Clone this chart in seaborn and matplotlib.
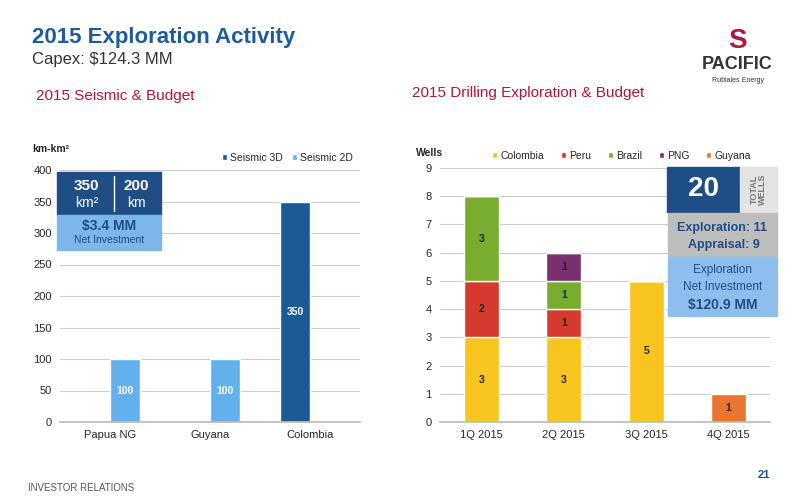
import matplotlib
matplotlib.use("Agg")
import matplotlib.pyplot as plt
from matplotlib.patches import Rectangle
import seaborn as sns
import pandas as pd

# Seismic data
seis_regions = ["Papua NG", "Guyana", "Colombia"]
seis_3d = [0, 0, 350]
seis_2d = [100, 100, 0]

# Drilling data
quarters = ["1Q 2015", "2Q 2015", "3Q 2015", "4Q 2015"]
wells = {
    "Colombia": [3, 3, 5, 0],
    "Peru": [2, 1, 0, 0],
    "Brazil": [3, 1, 0, 0],
    "PNG": [0, 1, 0, 0],
    "Guyana": [0, 0, 0, 1],
}
well_colors = {"Colombia": "#F7C51E", "Peru": "#D63A2F", "Brazil": "#78AD2F",
               "PNG": "#7A2F6E", "Guyana": "#E87530"}

DARK = "#1F4E87"
C3D = "#1B5A94"
C2D = "#63B1EC"
RED = "#B0163A"

sns.set_theme(style="white")
plt.rcParams["font.family"] = ["Liberation Sans", "DejaVu Sans"]

fig = plt.figure(figsize=(8, 5), dpi=100)
fig.patch.set_facecolor("white")

# header
fig.text(0.04, 0.915, "2015 Exploration Activity", fontsize=16, weight="bold", color="#1F5A9C")
fig.text(0.04, 0.872, "Capex: $124.3 MM", fontsize=12, color="#333333")
fig.text(0.045, 0.800, "2015 Seismic & Budget", fontsize=11, color=RED)
fig.text(0.515, 0.805, "2015 Drilling Exploration & Budget", fontsize=11, color=RED)
fig.text(0.922, 0.862, "PACIFIC", fontsize=13, weight="bold", color="#333333", ha="center")
fig.text(0.922, 0.836, "Rubiales Energy", fontsize=5, color="#333333", ha="center")
fig.text(0.922, 0.905, "S", fontsize=20, weight="bold", color=RED, ha="center")
fig.text(0.035, 0.018, "INVESTOR RELATIONS", fontsize=7, color="#555555")
fig.text(0.955, 0.045, "21", fontsize=8, weight="bold", color="#1F4E87", ha="center")

# ---- left chart ----
ax1 = fig.add_axes([0.075, 0.156, 0.375, 0.504])
df1 = pd.DataFrame({
    "region": seis_regions * 2,
    "type": ["Seismic 3D"] * 3 + ["Seismic 2D"] * 3,
    "value": seis_3d + seis_2d,
})
sns.barplot(data=df1, x="region", y="value", hue="type", ax=ax1,
            palette={"Seismic 3D": C3D, "Seismic 2D": C2D}, width=0.6, saturation=1)
for cont in ax1.containers:
    for b in cont:
        h = b.get_height()
        if h > 0:
            ax1.text(b.get_x() + b.get_width() / 2, h / 2, f"{int(h)}", color="white",
                     fontsize=7.5, weight="bold", ha="center", va="center")
ax1.set_ylim(0, 400)
ax1.set_yticks(range(0, 401, 50))
ax1.yaxis.grid(True, color="#CCCCCC", lw=0.8)
ax1.set_axisbelow(True)
ax1.set_xlabel("")
ax1.set_ylabel("")
ax1.tick_params(labelsize=8, length=0, pad=6)
for s in ["top", "right", "left"]:
    ax1.spines[s].set_visible(False)
ax1.spines["bottom"].set_color("#BBBBBB")
leg = ax1.legend(loc="lower right", bbox_to_anchor=(1.0, 1.0), ncol=2, frameon=False,
                 fontsize=7.5, handlelength=0.5, handleheight=0.5, columnspacing=0.8,
                 handletextpad=0.3, borderaxespad=0.3)
fig.text(0.04, 0.695, "km-km²", fontsize=7.5, weight="bold")

# info box left
fig.patches.append(Rectangle((0.071, 0.570), 0.130, 0.086, transform=fig.transFigure, color=DARK))
fig.patches.append(Rectangle((0.071, 0.500), 0.130, 0.070, transform=fig.transFigure, color="#7DB6EA"))
fig.lines.append(plt.Line2D([0.142, 0.142], [0.578, 0.648], transform=fig.transFigure, color="white", lw=1))
fig.text(0.108, 0.627, "350", fontsize=11, weight="bold", color="white", ha="center", va="center")
fig.text(0.108, 0.594, "km²", fontsize=10, color="white", ha="center", va="center")
fig.text(0.170, 0.627, "200", fontsize=11, weight="bold", color="white", ha="center", va="center")
fig.text(0.170, 0.594, "km", fontsize=10, color="white", ha="center", va="center")
fig.text(0.136, 0.548, "$3.4 MM", fontsize=10, weight="bold", color=DARK, ha="center", va="center")
fig.text(0.136, 0.520, "Net Investment", fontsize=7.5, color=DARK, ha="center", va="center")

# ---- right chart ----
ax2 = fig.add_axes([0.55, 0.156, 0.4125, 0.508])
bottom = [0] * len(quarters)
for name, vals in wells.items():
    sns.barplot(x=quarters, y=vals, ax=ax2, color=well_colors[name], saturation=1,
                width=0.42, bottom=bottom, label=name)
    for i, v in enumerate(vals):
        if v > 0:
            ax2.text(i, bottom[i] + v / 2, str(v), fontsize=7.5, weight="bold",
                     ha="center", va="center", color="#222222")
    bottom = [b + v for b, v in zip(bottom, vals)]
ax2.set_ylim(0, 9)
ax2.set_yticks(range(0, 10))
ax2.yaxis.grid(True, color="#CCCCCC", lw=0.8)
ax2.set_axisbelow(True)
ax2.tick_params(labelsize=8, length=0, pad=6)
for s in ["top", "right", "left"]:
    ax2.spines[s].set_visible(False)
ax2.spines["bottom"].set_color("#BBBBBB")
ax2.legend(loc="lower center", bbox_to_anchor=(0.55, 1.0), ncol=5, frameon=False,
           fontsize=7.5, handlelength=0.5, handleheight=0.5, columnspacing=1.6,
           handletextpad=0.3, borderaxespad=0.3)
fig.text(0.52, 0.688, "Wells", fontsize=7.5, weight="bold")

# info box right
fig.patches.append(Rectangle((0.834, 0.576), 0.091, 0.090, transform=fig.transFigure, color=DARK))
fig.patches.append(Rectangle((0.925, 0.576), 0.046, 0.090, transform=fig.transFigure, color="#E3E3E3"))
fig.patches.append(Rectangle((0.835, 0.488), 0.136, 0.086, transform=fig.transFigure, color="#BDBDBD"))
fig.patches.append(Rectangle((0.835, 0.368), 0.136, 0.118, transform=fig.transFigure, color="#8EBEEB"))
fig.text(0.879, 0.621, "20", fontsize=20, weight="bold", color="white", ha="center", va="center")
fig.text(0.948, 0.621, "TOTAL\nWELLS", fontsize=6.5, weight="bold", color="#777777",
         ha="center", va="center", rotation=90, linespacing=0.9)
fig.text(0.903, 0.545, "Exploration: 11", fontsize=9, weight="bold", color=DARK, ha="center", va="center")
fig.text(0.905, 0.510, "Appraisal: 9", fontsize=9, weight="bold", color=DARK, ha="center", va="center")
fig.text(0.903, 0.460, "Exploration", fontsize=8.5, color=DARK, ha="center", va="center")
fig.text(0.903, 0.427, "Net Investment", fontsize=8.5, color=DARK, ha="center", va="center")
fig.text(0.903, 0.391, "$120.9 MM", fontsize=10, weight="bold", color=DARK, ha="center", va="center")

fig.savefig("out.png", dpi=100)
